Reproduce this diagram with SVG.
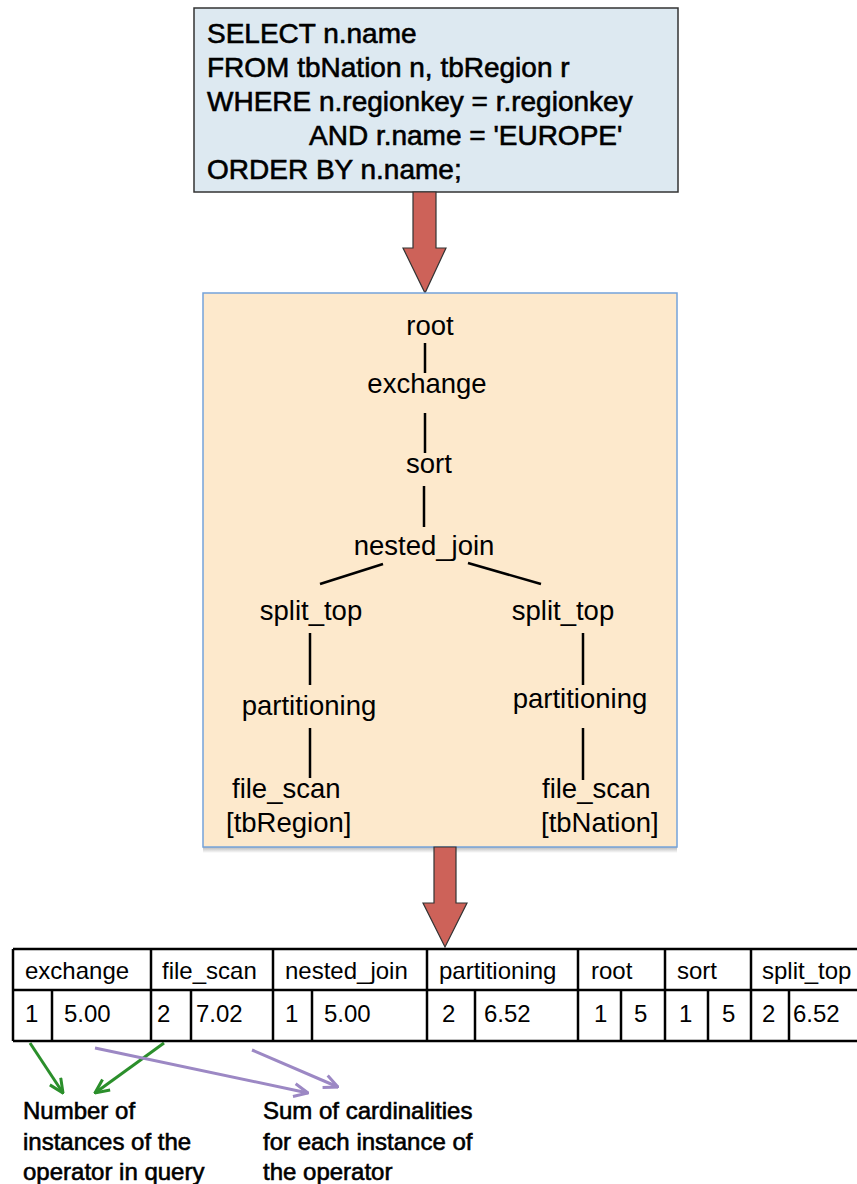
<svg xmlns="http://www.w3.org/2000/svg" width="857" height="1184" viewBox="0 0 857 1184">
<style>
.sql{font-family:"Liberation Sans",Arial,sans-serif;font-size:28px;fill:#000;stroke:#000;stroke-width:0.6}
.tree{font-family:"Liberation Sans",Arial,sans-serif;font-size:27.5px;fill:#000}
.tbl{font-family:"Liberation Sans",Arial,sans-serif;font-size:24px;fill:#000}
.note{font-family:"Liberation Sans",Arial,sans-serif;font-size:24px;fill:#000;stroke:#000;stroke-width:0.6}
.edge{stroke:#000;stroke-width:2.5;fill:none}
.grid{stroke:#000;stroke-width:2.5;fill:none}
.bigarrow{fill:#cd6259;stroke:#333;stroke-width:1.2}
.green{stroke:#2b8f2b;stroke-width:3;fill:none}
.purple{stroke:#9c88c4;stroke-width:3;fill:none}
</style>
<defs>
<marker id="mg" viewBox="0 0 16 16" refX="15" refY="8" markerWidth="16" markerHeight="16" markerUnits="userSpaceOnUse" orient="auto">
<path d="M1,1.5 L15,8 L1,14.5" fill="none" stroke="#2b8f2b" stroke-width="3"/>
</marker>
<marker id="mp" viewBox="0 0 16 16" refX="15" refY="8" markerWidth="16" markerHeight="16" markerUnits="userSpaceOnUse" orient="auto">
<path d="M1,1.5 L15,8 L1,14.5" fill="none" stroke="#9c88c4" stroke-width="3"/>
</marker>
<linearGradient id="sh" x1="0" y1="0" x2="0" y2="1">
<stop offset="0" stop-color="#888" stop-opacity="0.6"/>
<stop offset="1" stop-color="#888" stop-opacity="0"/>
</linearGradient>
</defs>

<g id="sql-box">
<rect x="194" y="8" width="484" height="184" fill="#dde9f1" stroke="#333" stroke-width="1.5"/>
<text class="sql" x="207" y="43">SELECT n.name</text>
<text class="sql" x="207" y="77">FROM tbNation n, tbRegion r</text>
<text class="sql" x="207" y="111">WHERE n.regionkey = r.regionkey</text>
<text class="sql" x="309" y="145">AND r.name = 'EUROPE'</text>
<text class="sql" x="207" y="179">ORDER BY n.name;</text>
</g>

<g id="arrow-1">
<path class="bigarrow" d="M413,192 L436,192 L436,248 L446,248 L425,293 L403,248 L413,248 Z"/>
</g>

<g id="plan-box">
<rect x="203" y="847" width="474" height="6" fill="url(#sh)"/>
<rect x="203" y="293" width="474" height="554" fill="#fde9cc" stroke="#74a3da" stroke-width="1.5"/>
</g>

<g id="connectors">
<line class="edge" x1="425" y1="343" x2="425" y2="373"/>
<line class="edge" x1="425" y1="413" x2="425" y2="453"/>
<line class="edge" x1="424" y1="486" x2="424" y2="527"/>
<line class="edge" x1="383" y1="564" x2="320" y2="584"/>
<line class="edge" x1="468" y1="563" x2="541" y2="584"/>
<line class="edge" x1="310" y1="633" x2="310" y2="685"/>
<line class="edge" x1="583" y1="633" x2="583" y2="685"/>
<line class="edge" x1="310" y1="728" x2="310" y2="778"/>
<line class="edge" x1="583" y1="728" x2="583" y2="780"/>
<line class="green" x1="30" y1="1043" x2="63" y2="1093" marker-end="url(#mg)"/>
<line class="green" x1="164" y1="1043" x2="95" y2="1093" marker-end="url(#mg)"/>
<line class="purple" x1="95" y1="1048" x2="308" y2="1093" marker-end="url(#mp)"/>
<line class="purple" x1="252" y1="1050" x2="338" y2="1087" marker-end="url(#mp)"/>
</g>

<g id="node-root"><text class="tree" x="430" y="335" text-anchor="middle">root</text></g>
<g id="node-exchange"><text class="tree" x="427" y="393" text-anchor="middle">exchange</text></g>
<g id="node-sort"><text class="tree" x="429" y="473" text-anchor="middle">sort</text></g>
<g id="node-nested_join"><text class="tree" x="424" y="555" text-anchor="middle">nested_join</text></g>
<g id="node-split_top-left"><text class="tree" x="311" y="620" text-anchor="middle">split_top</text></g>
<g id="node-split_top-right"><text class="tree" x="563" y="620" text-anchor="middle">split_top</text></g>
<g id="node-partitioning-left"><text class="tree" x="309" y="715" text-anchor="middle">partitioning</text></g>
<g id="node-partitioning-right"><text class="tree" x="580" y="708" text-anchor="middle">partitioning</text></g>
<g id="node-file_scan-left"><text class="tree" x="232" y="798">file_scan</text><text class="tree" x="226" y="832">[tbRegion]</text></g>
<g id="node-file_scan-right"><text class="tree" x="542" y="798">file_scan</text><text class="tree" x="541" y="832">[tbNation]</text></g>

<g id="arrow-2">
<path class="bigarrow" d="M434,847 L456,847 L456,903 L467,903 L445,947 L423,903 L434,903 Z"/>
</g>

<g id="stats-table">
<rect x="0" y="949" width="857" height="92" fill="#fff"/>
<line class="grid" x1="13" y1="949" x2="858" y2="949"/>
<line class="grid" x1="13" y1="990" x2="858" y2="990"/>
<line class="grid" x1="13" y1="1041" x2="858" y2="1041"/>
<line class="grid" x1="13" y1="949" x2="13" y2="1041"/>
<line class="grid" x1="151" y1="949" x2="151" y2="1041"/>
<line class="grid" x1="273" y1="949" x2="273" y2="1041"/>
<line class="grid" x1="427" y1="949" x2="427" y2="1041"/>
<line class="grid" x1="578" y1="949" x2="578" y2="1041"/>
<line class="grid" x1="665" y1="949" x2="665" y2="1041"/>
<line class="grid" x1="751" y1="949" x2="751" y2="1041"/>
<line class="grid" x1="52" y1="990" x2="52" y2="1041"/>
<line class="grid" x1="191" y1="990" x2="191" y2="1041"/>
<line class="grid" x1="312" y1="990" x2="312" y2="1041"/>
<line class="grid" x1="475" y1="990" x2="475" y2="1041"/>
<line class="grid" x1="621" y1="990" x2="621" y2="1041"/>
<line class="grid" x1="708" y1="990" x2="708" y2="1041"/>
<line class="grid" x1="789" y1="990" x2="789" y2="1041"/>
<text class="tbl" x="25" y="979">exchange</text>
<text class="tbl" x="162" y="979">file_scan</text>
<text class="tbl" x="285" y="979">nested_join</text>
<text class="tbl" x="439" y="979">partitioning</text>
<text class="tbl" x="591" y="979">root</text>
<text class="tbl" x="677" y="979">sort</text>
<text class="tbl" x="762" y="979">split_top</text>
<text class="tbl" x="25" y="1022">1</text>
<text class="tbl" x="64" y="1022">5.00</text>
<text class="tbl" x="157" y="1022">2</text>
<text class="tbl" x="196" y="1022">7.02</text>
<text class="tbl" x="285" y="1022">1</text>
<text class="tbl" x="324" y="1022">5.00</text>
<text class="tbl" x="442" y="1022">2</text>
<text class="tbl" x="484" y="1022">6.52</text>
<text class="tbl" x="594" y="1022">1</text>
<text class="tbl" x="634" y="1022">5</text>
<text class="tbl" x="679" y="1022">1</text>
<text class="tbl" x="722" y="1022">5</text>
<text class="tbl" x="762" y="1022">2</text>
<text class="tbl" x="793" y="1022">6.52</text>
</g>

<g id="note-instances">
<text class="note" x="23" y="1119">Number of</text>
<text class="note" x="23" y="1150">instances of the</text>
<text class="note" x="23" y="1180">operator in query</text>
</g>
<g id="note-cardinalities">
<text class="note" x="263" y="1119">Sum of cardinalities</text>
<text class="note" x="263" y="1150">for each instance of</text>
<text class="note" x="263" y="1180">the operator</text>
</g>
</svg>
